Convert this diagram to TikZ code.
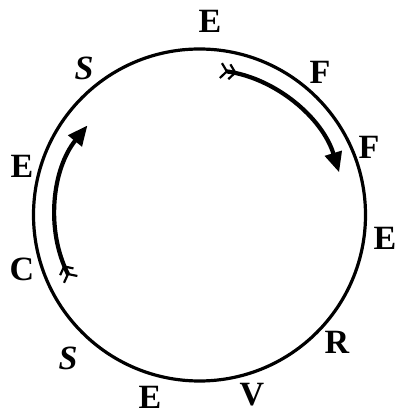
\documentclass[tikz,border=0pt]{standalone}
\usepackage{fontspec}
\setmainfont{Liberation Serif}
\usetikzlibrary{arrows.meta}
\begin{document}
\begin{tikzpicture}[x=1pt,y=1pt,
  lett/.style={font=\fontsize{34}{34}\selectfont\bfseries, inner sep=0pt},
  slett/.style={inner sep=0pt, font=\fontsize{34}{34}\selectfont\bfseries\itshape},
  ring/.style={line width=3.2pt},
  flow/.style={line width=4.2pt,
    {Straight Barb[reversed,length=6pt,width=15pt,line width=2.2pt] Straight Barb[reversed,length=6pt,width=15pt,line width=2.2pt]}-{Triangle[length=20pt,width=17pt]}}
]
\useasboundingbox (0,0) rectangle (400,414);
\coordinate (c) at (199.5,199);
\draw[ring] (c) circle[radius=166];

% letters
\node[lett]  (eTop)   at (210,393) {E};
\node[slett] (sTop)   at (84,346)  {S};
\node[lett]  (fTop)   at (320,342) {F};
\node[lett]  (fRight) at (369,267) {F};
\node[lett]  (eLeft)  at (22,248)  {E};
\node[lett]  (eRight) at (385,176) {E};
\node[lett]  (cLeft)  at (22,145)  {C};
\node[lett]  (rRight) at (337,72)  {R};
\node[slett] (sBot)   at (68,56)   {S};
\node[lett]  (vBot)   at (252,19)  {V};
\node[lett]  (eBot)   at (150,17)  {E};

% arrows
\draw[flow] ([shift={(82:146)}]c) arc[start angle=82, end angle=17, radius=146];
\draw[flow] ([shift={(207:144)}]c) arc[start angle=207, end angle=141, radius=143];
\end{tikzpicture}
\end{document}
